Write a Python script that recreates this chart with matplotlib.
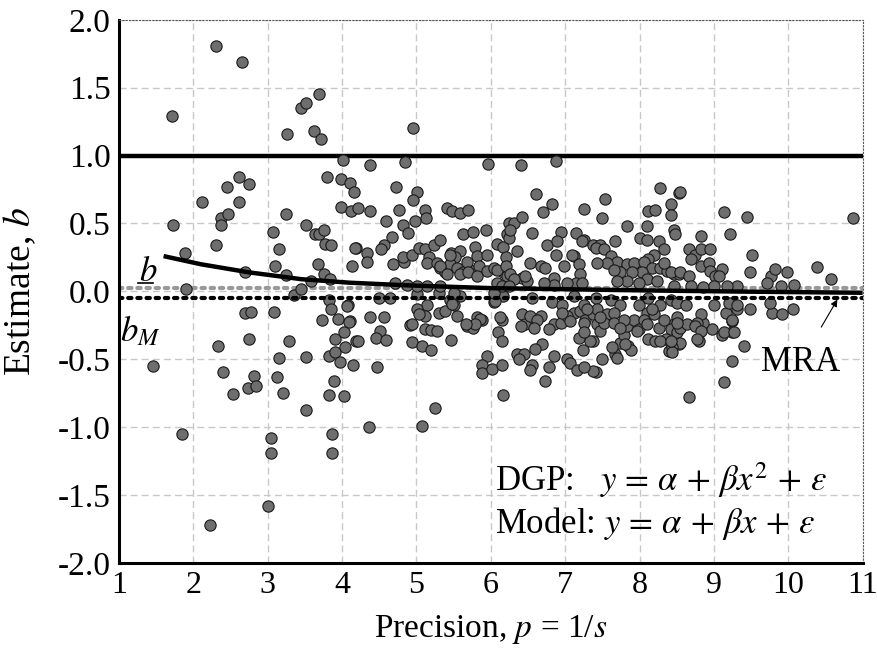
import matplotlib
matplotlib.use("Agg")
import matplotlib.pyplot as plt

plt.rcParams['font.family'] = ['Liberation Serif', 'DejaVu Serif']
plt.rcParams['mathtext.fontset'] = 'stix'
plt.rcParams['axes.unicode_minus'] = False

# precision (x) and estimate (y) of each study
precision = [
    1.71, 2.31, 2.66, 3.45, 3.51, 3.69, 3.26, 3.62, 3.71, 1.73, 2.12, 1.89, 2.30, 2.45, 2.61, 2.75,
    2.62, 2.37, 2.47, 2.37, 1.90, 2.69, 2.70, 2.78, 3.08, 3.07, 3.15, 3.10, 3.25, 3.25, 3.35, 3.45,
    3.51, 3.64, 3.69, 3.76, 3.77, 3.85, 3.67, 3.76, 3.58, 3.82, 3.85, 3.73, 3.95, 4.10, 4.08, 4.01,
    3.80, 3.98, 4.11, 4.16, 3.98, 4.12, 4.22, 4.19, 4.13, 1.46, 1.85, 2.22, 3.00, 3.05, 3.05, 3.87,
    3.87, 3.51, 2.54, 2.74, 2.82, 2.84, 2.40, 2.33, 2.75, 3.29, 3.15, 3.13, 3.20, 3.51, 3.82, 4.03,
    3.89, 3.82, 3.91, 3.97, 4.15, 4.04, 3.91, 4.02, 4.19, 4.09, 4.06, 3.84,
    # 4 - 6.2
    4.38, 4.85, 5.96, 4.72, 5.01, 4.95, 4.38, 4.76, 4.59, 5.12, 5.13, 4.82, 4.98, 4.89, 5.41, 5.48,
    5.59, 5.69, 4.18, 4.33, 4.34, 4.67, 4.57, 4.53, 4.69, 4.83, 4.82, 4.94, 5.03, 5.12, 5.23, 5.32,
    5.17, 5.14, 5.27, 5.32, 5.39, 5.46, 5.59, 5.52, 5.45, 5.54, 5.63, 5.72, 5.62, 5.76, 5.93, 5.79,
    5.81, 5.95, 5.84, 5.95, 6.04, 6.08, 6.17, 6.22, 6.20, 6.17, 6.24, 4.71, 4.49, 5.01, 5.14, 5.30,
    5.45, 5.59, 5.50, 6.04, 6.17, 4.21, 4.37, 4.56, 4.51, 4.45, 4.59, 4.47, 4.36, 5.07, 5.25, 4.92,
    4.94, 5.07, 5.19, 5.01, 5.12, 5.03, 5.12, 5.19, 5.28, 5.30, 5.39, 5.54, 5.48, 5.47, 5.68, 5.76,
    5.81, 5.88, 5.95, 5.88, 5.88, 6.01, 6.15, 6.10, 6.15, 6.15, 6.06, 6.16, 4.96, 5.86, 5.79, 5.66,
    4.94, 5.45, 5.68, 5.32, 5.41, 5.59, 5.70, 5.81, 6.08, 6.22, 4.87, 5.01, 5.14, 5.32, 4.65, 5.50,
    # 6.3 - 8.6
    6.41, 6.88, 6.61, 6.70, 6.82, 7.25, 6.31, 6.42, 6.55, 6.94, 7.14, 7.25, 7.38, 6.75, 6.89, 6.88,
    6.53, 6.67, 6.73, 6.85, 6.98, 7.12, 7.18, 7.20, 6.24, 6.26, 6.35, 6.20, 6.26, 6.42, 6.49, 6.31,
    6.08, 6.04, 6.13, 6.42, 6.58, 6.67, 6.46, 6.85, 7.02, 7.12, 7.20, 7.27, 7.38, 7.43, 7.54, 7.50,
    7.83, 8.27, 8.42, 8.53, 8.12, 8.21, 8.42, 8.10, 8.01, 8.10, 8.46, 8.48, 7.23, 7.47, 7.41, 7.67,
    8.26, 8.33, 8.19, 8.12, 7.52, 7.61, 7.70, 7.56, 7.43, 7.09, 7.83, 7.92, 8.06, 8.17, 8.03, 7.90,
    7.74, 7.65, 8.28, 8.37, 8.46, 8.53, 8.10, 8.23, 7.99, 7.83, 7.70, 7.14, 7.03, 7.23, 6.85, 6.71,
    6.46, 6.15, 6.24, 6.55, 6.82, 6.96, 7.12, 7.25, 7.41, 7.61, 7.74, 7.99, 8.12, 8.28, 8.42, 6.53,
    6.62, 6.40, 6.58, 6.78, 6.69, 6.60, 6.35, 6.44, 6.38, 6.55, 6.53, 6.85, 6.78, 6.73, 7.02, 7.07,
    7.16, 7.18, 7.24, 7.41, 7.50, 7.38, 7.47, 6.94, 7.03, 6.96, 7.07, 7.25, 7.43, 7.56, 7.65, 7.52,
    7.65, 7.67, 7.70, 7.74, 7.79, 7.85, 7.88, 7.83, 7.92, 7.99, 8.10, 8.19, 8.06, 8.26, 8.12, 8.21,
    8.35, 8.42, 8.39, 8.46, 8.33, 8.50, 7.38, 7.25, 7.34, 7.25, 7.47, 7.29, 7.63, 7.81, 7.97, 7.79,
    7.74, 8.10, 8.28, 8.53, 8.42, 8.50, 8.55,
    # 8.5 - 11
    8.55, 9.14, 9.45, 10.87, 8.82, 9.22, 8.66, 8.75, 8.82, 8.95, 9.51, 8.69, 8.82, 8.93, 8.95, 9.02,
    9.11, 9.07, 9.48, 9.77, 9.82, 9.98, 10.38, 10.57, 10.08, 9.31, 9.71, 9.90, 8.33, 8.42, 8.55, 8.66,
    9.16, 9.31, 9.49, 9.78, 9.92, 10.07, 9.25, 8.46, 8.69, 8.86, 9.00, 9.18, 8.50, 8.62, 9.00, 9.20,
    9.31, 9.76, 8.66, 9.13, 9.24, 9.41, 9.24, 9.11, 8.98, 8.86, 8.82, 8.77, 8.80, 8.64, 8.50, 8.55,
    8.44, 8.44, 8.17, 8.42, 8.75, 8.82, 8.77, 9.13, 9.27, 9.24,
]
estimate = [
    1.29, 1.81, 1.69, 1.35, 1.39, 1.45, 1.16, 1.18, 1.125, 0.49, 0.66, 0.28, 0.34, 0.77, 0.84, 0.79,
    0.66, 0.54, 0.57, 0.49, 0.015, 0.14, -0.16, -0.15, -0.15, 0.44, 0.31, 0.19, 0.57, 0.12, -0.03, 0.02,
    0.49, 0.42, 0.42, 0.45, 0.35, 0.34, 0.20, 0.13, 0.08, -0.06, -0.13, -0.21, -0.20, -0.22, -0.10, 0.97,
    0.84, 0.83, 0.80, 0.73, 0.62, 0.59, 0.615, 0.32, 0.19, -0.55, -1.05, -1.72, -1.58, -1.08, -1.19, -1.05,
    -1.19, -0.87, -0.755, -0.715, -0.62, -0.70, -0.59, -0.40, -0.35, -0.365, -0.49, -0.63, -0.75, -0.48, -0.76, -0.77,
    -0.66, -0.475, -0.45, -0.52, -0.54, -0.41, -0.35, -0.30, -0.365, -0.225, -0.11, 0.09,
    # 4 - 6.2
    0.93, 0.95, 0.94, 0.77, 0.73, 0.67, 0.595, 0.60, 0.52, 0.60, 0.54, 0.49, 0.52, 0.43, 0.615, 0.59,
    0.58, 0.60, 0.32, 0.28, 0.22, 0.40, 0.34, 0.31, 0.20, 0.22, 0.25, 0.27, 0.32, 0.31, 0.34, 0.375,
    0.25, 0.21, 0.21, 0.17, 0.14, 0.285, 0.30, 0.25, 0.20, 0.17, 0.14, 0.16, 0.42, 0.435, 0.45, 0.33,
    0.26, 0.27, 0.19, 0.15, 0.17, 0.35, 0.33, 0.42, 0.25, 0.14, 0.505, 0.06, -0.05, -0.02, -0.10, -0.01,
    -0.06, -0.035, -0.10, -0.08, -0.035, -0.365, -0.19, -0.19, -0.29, -0.34, -0.36, -0.56, -1.0, -0.99, -0.86, -0.25,
    -0.37, -0.40, -0.43, -0.13, -0.18, -0.17, -0.28, -0.285, -0.29, -0.16, -0.145, -0.18, -0.09, -0.36, -0.255, -0.27,
    -0.19, -0.21, -0.475, -0.54, -0.60, -0.57, -0.54, -0.30, -0.365, -0.21, -0.07, -0.765, 1.20, -0.20, -0.24, -0.24,
    -0.24, 0.27, 0.22, 0.19, 0.125, 0.125, 0.14, 0.11, 0.16, 0.11, 0.045, 0.04, 0.04, 0.04, -0.05, -0.01,
    # 6.3 - 8.6
    0.93, 0.96, 0.72, 0.585, 0.645, 0.61, 0.50, 0.55, 0.43, 0.44, 0.43, 0.38, 0.345, 0.345, 0.37, 0.27,
    0.21, 0.19, 0.175, 0.10, 0.19, 0.26, 0.20, 0.125, 0.395, 0.455, 0.30, 0.19, 0.125, 0.10, 0.075, 0.09,
    0.065, -0.01, -0.19, -0.17, -0.21, -0.18, -0.24, -0.24, -0.21, -0.16, -0.145, -0.21, -0.17, -0.24, 0.68, 0.54,
    0.485, 0.76, 0.645, 0.725, 0.59, 0.60, 0.565, 0.48, 0.395, 0.38, 0.455, 0.42, 0.37, 0.34, 0.32, 0.37,
    0.37, 0.31, 0.27, 0.235, 0.31, 0.26, 0.22, 0.21, 0.21, 0.27, 0.20, 0.21, 0.22, 0.17, 0.14, 0.14,
    0.14, 0.16, 0.17, 0.15, 0.125, 0.125, 0.09, 0.075, 0.065, 0.075, 0.075, 0.065, 0.065, 0.065, 0.05, 0.065,
    0.11, 0.04, 0.04, -0.05, -0.08, -0.10, -0.035, -0.10, -0.05, -0.06, -0.10, -0.10, -0.05, -0.10, -0.06, -0.18,
    -0.21, -0.255, -0.27, -0.275, -0.385, -0.425, -0.46, -0.46, -0.50, -0.54, -0.58, -0.475, -0.56, -0.66, -0.50, -0.525,
    -0.58, -0.34, -0.43, -0.59, -0.50, -0.365, -0.29, -0.23, -0.18, -0.16, -0.22, -0.23, -0.13, -0.17, -0.16, -0.23,
    -0.23, -0.46, -0.49, -0.38, -0.32, -0.40, -0.43, -0.255, -0.21, -0.28, -0.16, -0.17, -0.21, -0.27, -0.35, -0.365,
    -0.35, -0.38, -0.44, -0.24, -0.21, -0.19, -0.585, -0.56, -0.365, -0.30, -0.19, -0.13, -0.41, -0.39, -0.29, -0.21,
    -0.27, -0.24, -0.365, -0.39, -0.28, -0.30, -0.27,
    # 8.5 - 11
    0.73, 0.585, 0.55, 0.54, 0.41, 0.42, 0.31, 0.27, 0.31, 0.31, 0.27, 0.235, 0.19, 0.21, 0.15, 0.11,
    0.165, 0.11, 0.14, 0.11, 0.165, 0.14, 0.18, 0.09, 0.045, 0.04, 0.065, 0.04, 0.21, 0.14, 0.14, 0.11,
    -0.16, -0.13, -0.13, -0.16, -0.17, -0.13, -0.22, 0.04, 0.04, 0.03, 0.04, 0.04, -0.085, -0.10, -0.10, -0.085,
    -0.10, -0.085, -0.78, -0.67, -0.51, -0.40, -0.30, -0.32, -0.28, -0.235, -0.17, -0.23, -0.365, -0.24, -0.23, -0.38,
    -0.41, -0.45, -0.13, -0.365, -0.255, -0.29, -0.35, -0.30, -0.30, -0.21,
]

# MRA fitted curve
mra_x = [1.6, 2.1, 2.75, 3.45, 4.1, 4.9, 6.0, 7.1, 8.1, 9.45, 11.0]
mra_y = [0.26, 0.20, 0.14, 0.09, 0.064, 0.044, 0.024, 0.015, 0.007, -0.002, -0.01]

true_effect = 1.0
b_bar = 0.027
b_m = -0.05

fig = plt.figure(figsize=(8.78, 6.6), dpi=100)
ax = fig.add_axes([0.1355, 0.147, 0.847, 0.823])

ax.grid(True, color='#c8c8c8', linestyle=(0, (5, 3)), linewidth=1.0)
ax.set_axisbelow(True)

ax.axhline(true_effect, color='black', linewidth=3.2, zorder=2)
ax.axhline(b_bar, color='#999999', linewidth=3, linestyle=(0, (0.8, 1.4)),
           dash_capstyle='round', zorder=2)
ax.axhline(b_m, color='black', linewidth=3, linestyle=(0, (0.8, 1.4)),
           dash_capstyle='round', zorder=4)

ax.scatter(precision, estimate, s=66, color='#6e6e6e', edgecolors='#1a1a1a',
           linewidths=0.8, zorder=3)
ax.plot(mra_x, mra_y, color='black', linewidth=3.2, zorder=5,
        solid_capstyle='butt')

ax.set_xlim(1, 11)
ax.set_ylim(-2, 2)
ax.set_xticks(range(1, 12))
yt = [-2.0, -1.5, -1.0, -0.5, 0.0, 0.5, 1.0, 1.5, 2.0]
ax.set_yticks(yt)
ax.set_yticklabels(['%.1f' % v for v in yt])
ax.tick_params(axis='x', length=0, labelsize=23, pad=6)
ax.tick_params(axis='y', length=0, labelsize=24, pad=6)

for side in ['left', 'bottom']:
    ax.spines[side].set_linewidth(2.2)
for side in ['top', 'right']:
    ax.spines[side].set_linewidth(0.8)
    ax.spines[side].set_linestyle((0, (1, 2)))
    ax.spines[side].set_color('#555555')

ax.set_xlabel('Precision, $p$ = 1/$s$', fontsize=24, labelpad=9)
ax.set_ylabel('Estimate, $b$', fontsize=27)
ax.yaxis.set_label_coords(-0.108, 0.5)

# underlined b (mean estimate) and b_M labels
ax.text(1.27, 0.08, r'$b$', fontsize=25)
ax.plot([1.25, 1.46], [0.065, 0.065], color='black', linewidth=1.2, clip_on=False)
ax.text(1.02, -0.37, r'$b_M$', fontsize=25)

ax.text(6.05, -1.39, r'DGP:   $y\,=\,\alpha\,+\,\beta x^2\,+\,\varepsilon$', fontsize=25,
        va='center', ha='left')
ax.text(6.05, -1.71, r'Model: $y\,=\,\alpha\,+\,\beta x\,+\,\varepsilon$', fontsize=25,
        va='center', ha='left')

ax.annotate('MRA', xy=(10.66, -0.06), xytext=(10.17, -0.52), fontsize=25,
            ha='center', va='center',
            arrowprops=dict(arrowstyle='-|>', color='black', lw=0.8,
                            mutation_scale=10, shrinkA=13, shrinkB=0))

fig.savefig('out.png', dpi=100)
